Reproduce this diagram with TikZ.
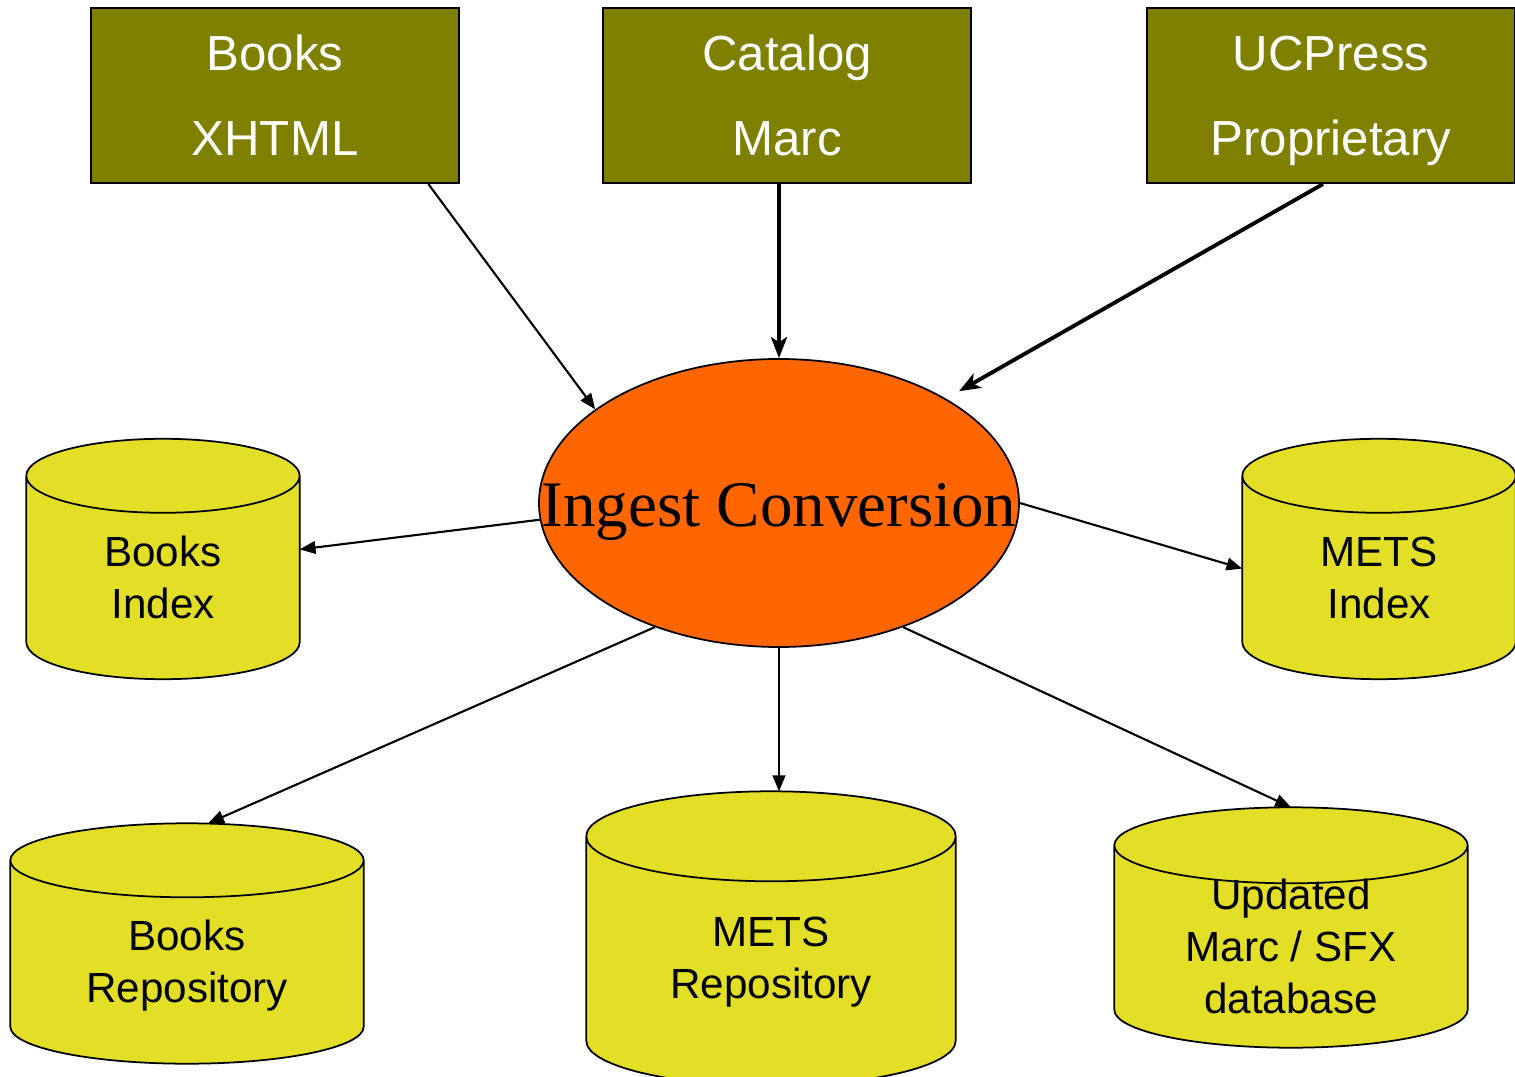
\documentclass[tikz,border=0pt]{standalone}
\usepackage{fontspec}
\setmainfont{Liberation Sans}
\newfontfamily\timesfont{Liberation Serif}
\usetikzlibrary{shapes.geometric,arrows.meta,calc}
\definecolor{srcolive}{RGB}{128,128,0}
\definecolor{ingestorange}{RGB}{255,102,0}
\definecolor{dbyellow}{RGB}{227,222,38}
\tikzset{
    source/.style={draw,line width=0.6pt,fill=srcolive,text=white,minimum width=3.68cm,minimum height=1.75cm,align=center,text depth=0pt,font=\fontsize{14}{24.2}\selectfont},
    db/.style={minimum width=#1,inner sep=0pt},
    dbline/.style={draw,line width=0.5pt,fill=dbyellow},
    dbtext/.style={align=center,font=\fontsize{12}{14.8}\selectfont},
    flow/.style={-{Triangle[length=4.5pt,width=3.6pt]},line width=0.6pt},
    bigflow/.style={-{Stealth[length=6pt,width=4.6pt,inset=1.5pt]},line width=1.1pt},
  }

\begin{document}
\begin{tikzpicture}
                                    \useasboundingbox (0,0) rectangle (15.15,10.76);
                                    %sources
                                    \node[source] (bx) at (2.75,9.805) {Books\\XHTML};
                                    \node[source] (cm) at (7.87,9.805) {Catalog\\Marc};
                                    \node[source] (up) at (13.31,9.805) {UCPress\\Proprietary};
                                    %ingest
                                    \node[ellipse,draw,line width=0.5pt,fill=ingestorange,minimum width=4.8cm,minimum height=2.88cm,inner sep=0pt] (ic) at (7.79,5.73) {};
                                    \node[anchor=base,font=\timesfont\fontsize{18.5}{20}\selectfont] (ict) at ($(ic)+(0,-0.24)$) {Ingest Conversion};
                                    %databases
                                    \node[db=2.72cm,minimum height=2.39cm] (bi) at (1.63,5.17) {};
                                    \node[db=2.72cm,minimum height=2.39cm] (mi) at (13.79,5.17) {};
                                    \node[db=3.52cm,minimum height=2.39cm] (br) at (1.87,1.325) {};
                                    \node[db=3.68cm,minimum height=2.93cm] (mr) at (7.71,1.375) {};
                                    \node[db=3.52cm,minimum height=2.39cm] (ud) at (12.91,1.485) {};
                                    \foreach \c/\r in {bi/0.37cm,mi/0.37cm,br/0.37cm,mr/0.45cm,ud/0.38cm}{
                                      \path[dbline] let \p1=(\c.north west), \p2=(\c.south east) in
                                        (\x1,\y1-\r) -- (\x1,\y2+\r) arc[start angle=180,end angle=360,x radius={(\x2-\x1)/2},y radius=\r]
                                        -- (\x2,\y1-\r) arc[start angle=0,end angle=180,x radius={(\x2-\x1)/2},y radius=\r] -- cycle
                                        (\x1,\y1-\r) arc[start angle=180,end angle=360,x radius={(\x2-\x1)/2},y radius=\r];
                                    }
                                    \node[dbtext] (bit) at ($(bi)+(0,-0.185)$) {Books\\Index};
                                    \node[dbtext] (mit) at ($(mi)+(0,-0.185)$) {METS\\Index};
                                    \node[dbtext] (brt) at ($(br)+(0,-0.225)$) {Books\\Repository};
                                    \node[dbtext] (mrt) at ($(mr)+(0,-0.235)$) {METS\\Repository};
                                    \node[dbtext] (udt) at ($(ud)+(0,-0.185)$) {Updated\\Marc / SFX\\database};
                                    %arrows
                                    \draw[flow] (bx.-30) -- (ic.153);
                                    \draw[bigflow] (cm.south -| ic.north) -- (ic.north);
                                    \draw[bigflow,shorten >=1.5mm] ($(up.south)+(-0.08,0)$) -- (ic.32);
                                    \draw[flow] (ic.184) -- (bi.4);
                                    \draw[flow] (ic.east) -- (mi.184);
                                    \draw[flow] (ic.225) -- (br.80);
                                    \draw[flow] (ic.south) -- (mr.north -| ic.south);
                                    \draw[flow] (ic.-45) -- (ud.north);
\end{tikzpicture}
\end{document}
